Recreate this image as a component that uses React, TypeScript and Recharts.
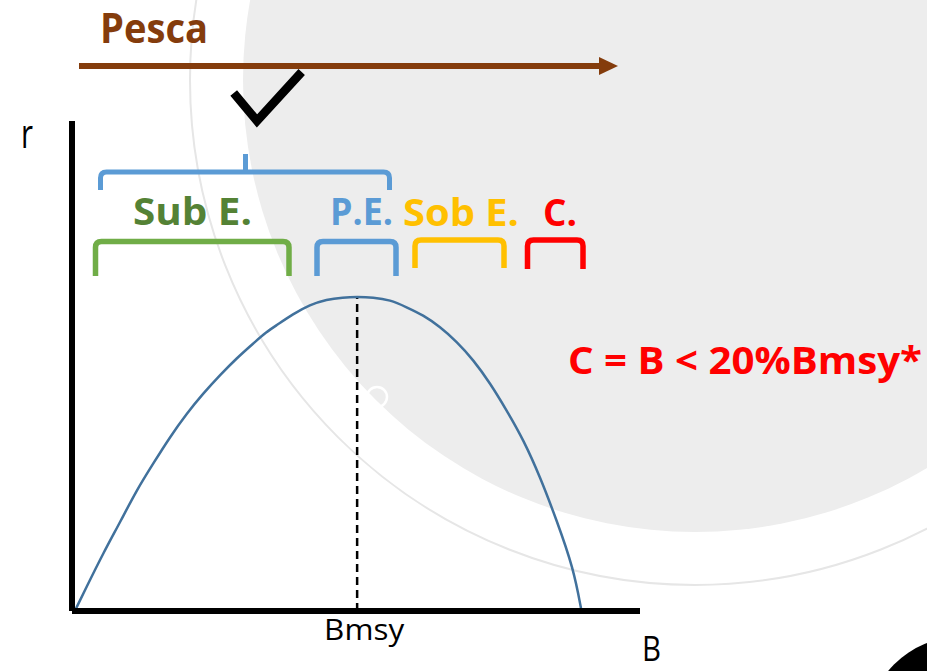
import React from 'react';
import { ComposedChart, Line, XAxis, YAxis, ReferenceLine, Customized } from 'recharts';

// Biomass (B) positions along the curve, 0..100 scale of the horizontal axis
const bValues = [0.5, 2.6, 5.5, 8.5, 11.4, 14.3, 17.3, 20.2, 23.1, 26.1, 29.0, 31.9, 34.3, 36.0, 38.9, 41.9, 44.8, 47.7, 50.2, 53.0, 56.0, 58.9, 61.8, 64.8, 67.7, 70.7, 73.6, 76.5, 79.5, 82.4, 85.3, 88.3, 89.7];
// Growth rate (r) at each biomass value, 0..100 scale of the vertical axis
const rValues = [0, 5.0, 11.8, 18.2, 24.7, 30.1, 35.6, 40.3, 44.4, 48.2, 51.6, 54.6, 57.0, 58.3, 60.6, 62.5, 63.6, 64.0, 64.1, 64.0, 63.5, 62.0, 60.4, 58.0, 55.0, 51.2, 46.5, 41.0, 34.9, 27.4, 18.6, 8.7, 0];

const bmsyValue = 50.2;
const rAtBmsy = 64.1;
const xTicks = [bmsyValue];
const xTickLabels = ['Bmsy'];

const data = bValues.map((b, i) => ({ b, r: rValues[i] }));

const FONT = '"Open Sans", sans-serif';
const BROWN = '#843c0c';
const BLUE = '#5b9bd5';
const GREEN_LINE = '#70ad47';
const GREEN_TEXT = '#548235';
const YELLOW = '#ffc000';
const RED = '#ff0000';

const BmsyTick = (props: any) => {
  const { x, y, payload } = props;
  const idx = xTicks.indexOf(payload.value);
  return (
    <text
      x={x}
      y={y}
      dx={7}
      dy="0.71em"
      textAnchor="middle"
      fontFamily={FONT}
      fontSize={30}
      fill="#000"
      textLength={80}
      lengthAdjust="spacingAndGlyphs"
    >
      {idx >= 0 ? xTickLabels[idx] : ''}
    </text>
  );
};

const bracket = (x1: number, x2: number, top: number, bottom: number, rad = 6) =>
  `M${x1},${bottom} L${x1},${top + rad} Q${x1},${top} ${x1 + rad},${top} L${x2 - rad},${top} Q${x2},${top} ${x2},${top + rad} L${x2},${bottom}`;

const Label = ({ x, y, len, color, size = 38, weight = 700, children }: any) => (
  <text
    x={x}
    y={y}
    fontFamily={FONT}
    fontSize={size}
    fontWeight={weight}
    fill={color}
    textLength={len}
    lengthAdjust="spacingAndGlyphs"
  >
    {children}
  </text>
);

const Decor = () => (
  <g>
    {/* Pesca arrow */}
    <line x1={79} y1={66} x2={601} y2={66} stroke={BROWN} strokeWidth={6} />
    <polygon points="599,57 618,66 599,75" fill={BROWN} />
    <Label x={100} y={43} len={108} color={BROWN} size={41}>Pesca</Label>

    {/* check mark */}
    <polyline points="233.7,93 257,121 301.7,72" fill="none" stroke="#000" strokeWidth={8.7} strokeLinejoin="miter" />

    {/* top blue brace */}
    <path d={bracket(100.5, 389.5, 172, 190)} fill="none" stroke={BLUE} strokeWidth={5} />
    <line x1={245.5} y1={172} x2={245.5} y2={154} stroke={BLUE} strokeWidth={5} />

    {/* group labels */}
    <Label x={133} y={225} len={119} color={GREEN_TEXT}>Sub E.</Label>
    <Label x={330} y={225} len={63} color={BLUE}>P.E.</Label>
    <Label x={403} y={226} len={116} color={YELLOW}>Sob E.</Label>
    <Label x={543} y={226} len={34} color={RED}>C.</Label>

    {/* small brackets */}
    <path d={bracket(95.5, 289, 241.5, 276)} fill="none" stroke={GREEN_LINE} strokeWidth={5.5} />
    <path d={bracket(317, 396, 241.5, 276)} fill="none" stroke={BLUE} strokeWidth={5.5} />
    <path d={bracket(415, 504, 240, 268)} fill="none" stroke={YELLOW} strokeWidth={5.5} />
    <path d={bracket(527.5, 583, 240, 269)} fill="none" stroke={RED} strokeWidth={5.5} />

    {/* formula */}
    <Label x={568} y={374} len={354} color={RED}>C = B &lt; 20%Bmsy*</Label>

    {/* axis names */}
    <Label x={21} y={148} len={12} color="#000" size={40} weight={400}>r</Label>
    <Label x={642} y={661} len={19} color="#000" size={35} weight={400}>B</Label>
  </g>
);

export default function App() {
  return (
    <div style={{ position: 'absolute', left: 0, top: 0, width: 927, height: 671, overflow: 'hidden', background: '#fff' }}>
      <svg width={927} height={671} style={{ position: 'absolute', left: 0, top: 0 }}>
        <circle cx={695} cy={80} r={452} fill="#ededed" />
        <circle cx={695} cy={80} r={505} fill="none" stroke="#e6e6e6" strokeWidth={2} />
        <circle cx={377} cy={397} r={10} fill="none" stroke="#ffffff" strokeWidth={2.5} />
        <circle cx={960} cy={730} r={93} fill="#000" />
      </svg>
      <div style={{ position: 'absolute', left: 0, top: 0 }}>
        <ComposedChart
          width={927}
          height={671}
          data={data}
          margin={{ top: 121, right: 287, bottom: 0, left: 0 }}
        >
          <XAxis
            dataKey="b"
            type="number"
            domain={[0, 100]}
            ticks={xTicks}
            height={60}
            axisLine={{ stroke: '#000', strokeWidth: 6 }}
            tickLine={false}
            tick={<BmsyTick />}
            allowDataOverflow
          />
          <YAxis
            type="number"
            domain={[0, 100]}
            width={72}
            axisLine={{ stroke: '#000', strokeWidth: 6 }}
            tickLine={false}
            tick={false}
            allowDataOverflow
          />
          <ReferenceLine
            segment={[{ x: bmsyValue, y: 0 }, { x: bmsyValue, y: rAtBmsy }]}
            stroke="#000"
            strokeWidth={2.5}
            strokeDasharray="8 5"
          />
          <Line
            type="basis"
            dataKey="r"
            stroke="#41719c"
            strokeWidth={2.5}
            dot={false}
            isAnimationActive={false}
          />
          <Customized component={Decor} />
        </ComposedChart>
      </div>
    </div>
  );
}
